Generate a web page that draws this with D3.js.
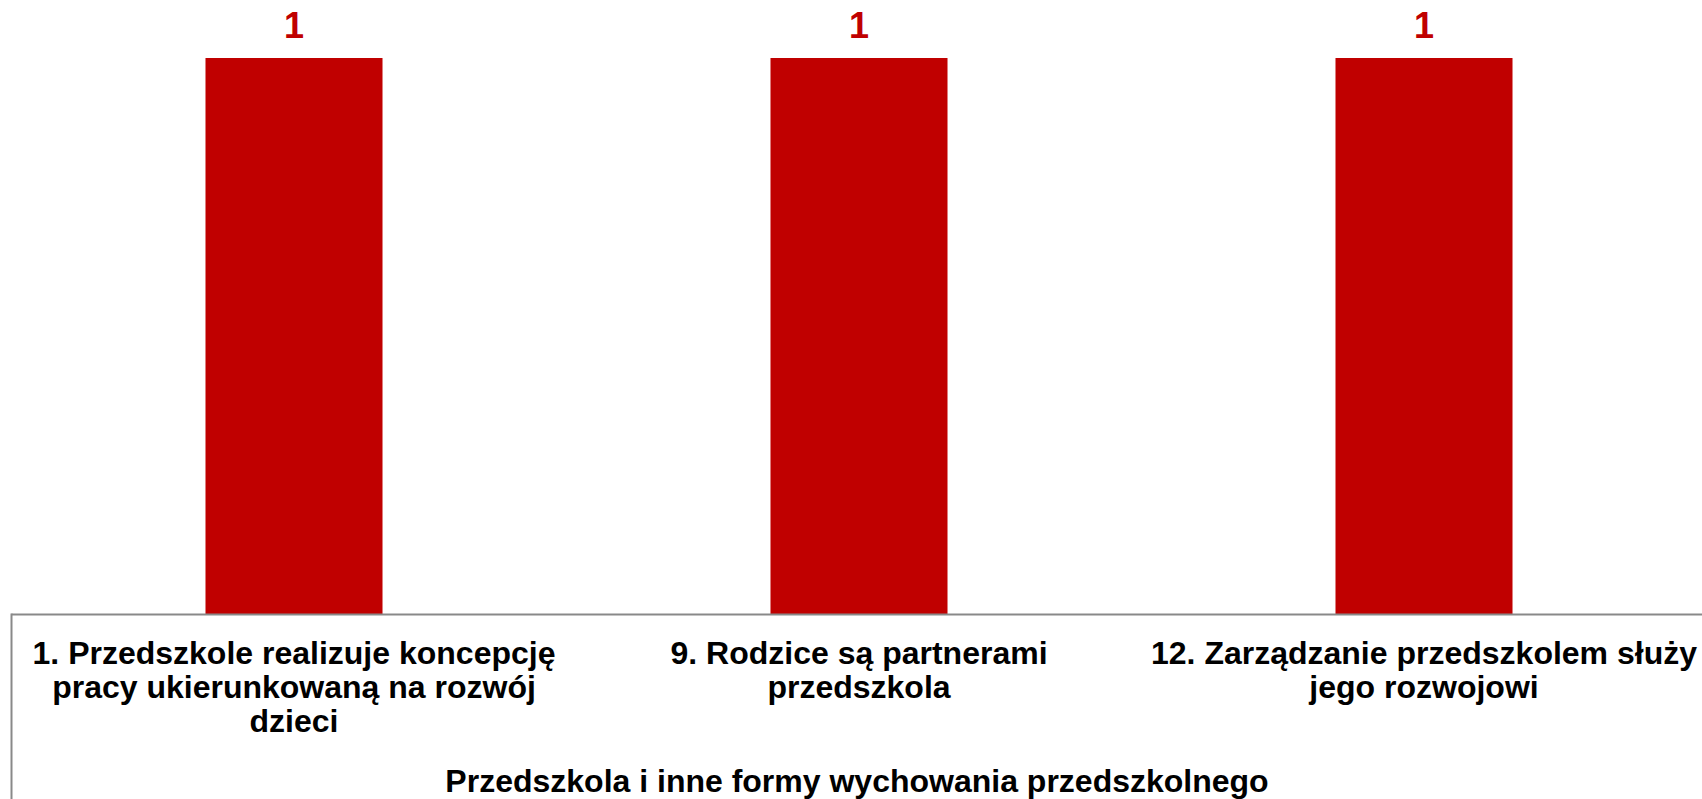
<!DOCTYPE html>
<html>
<head>
<meta charset="utf-8">
<script src="https://cdn.jsdelivr.net/npm/d3@7/dist/d3.min.js"></script>
<style>
  html, body { margin: 0; padding: 0; background: #ffffff; }
  svg { display: block; font-family: "Liberation Sans", Arial, sans-serif; }
</style>
</head>
<body>
<svg id="chart" width="1702" height="799"></svg>
<script>
// ---- data ----
const categories = [
  "1. Przedszkole realizuje koncepcję\npracy ukierunkowaną na rozwój\ndzieci",
  "9. Rodzice są partnerami\nprzedszkola",
  "12. Zarządzanie przedszkolem służy\njego rozwojowi"
];
const values = [1, 1, 1];
const groupTitle = "Przedszkola i inne formy wychowania przedszkolnego";

// ---- layout ----
const W = 1702, H = 799;
const plotLeft = 11.5, plotRight = 1706.5;
const axisY = 614.5, topY = 58;
const barColor = "#C00000";

const svg = d3.select("#chart");

const x = d3.scaleBand()
  .domain(categories)
  .range([plotLeft, plotRight])
  .paddingInner(0.6867)
  .paddingOuter(0.6867 / 2);

const y = d3.scaleLinear().domain([0, 1]).range([axisY, topY]);

// bars
svg.append("g").selectAll("rect")
  .data(values)
  .join("rect")
  .attr("x", (d, i) => x(categories[i]))
  .attr("y", d => y(d))
  .attr("width", x.bandwidth())
  .attr("height", d => y(0) - y(d))
  .attr("fill", barColor);

// value labels
svg.append("g").selectAll("text")
  .data(values)
  .join("text")
  .attr("x", (d, i) => x(categories[i]) + x.bandwidth() / 2)
  .attr("y", d => y(d) - 20.5)
  .attr("text-anchor", "middle")
  .attr("font-size", 36)
  .attr("font-weight", "bold")
  .attr("fill", barColor)
  .text(d => d);

// category axis (box style)
const axisG = svg.append("g");
axisG.append("line")
  .attr("x1", plotLeft).attr("x2", W + 10)
  .attr("y1", axisY).attr("y2", axisY)
  .attr("stroke", "#898989").attr("stroke-width", 2);
axisG.append("line")
  .attr("x1", plotLeft).attr("x2", plotLeft)
  .attr("y1", axisY - 1).attr("y2", H + 5)
  .attr("stroke", "#898989").attr("stroke-width", 2);

// category labels
const labels = axisG.selectAll("text.cat")
  .data(categories)
  .join("text")
  .attr("class", "cat")
  .attr("x", d => x(d) + x.bandwidth() / 2)
  .attr("y", 664)
  .attr("text-anchor", "middle")
  .attr("font-size", 32)
  .attr("font-weight", "bold")
  .attr("fill", "#000000");
labels.each(function(d) {
  const t = d3.select(this);
  const cx = x(d) + x.bandwidth() / 2;
  d.split("\n").forEach((line, i) => {
    t.append("tspan")
      .attr("x", cx)
      .attr("dy", i === 0 ? 0 : 34)
      .text(line);
  });
});

// group title
axisG.append("text")
  .attr("x", 857)
  .attr("y", 792)
  .attr("text-anchor", "middle")
  .attr("font-size", 32)
  .attr("font-weight", "bold")
  .attr("fill", "#000000")
  .text(groupTitle);
</script>
</body>
</html>
